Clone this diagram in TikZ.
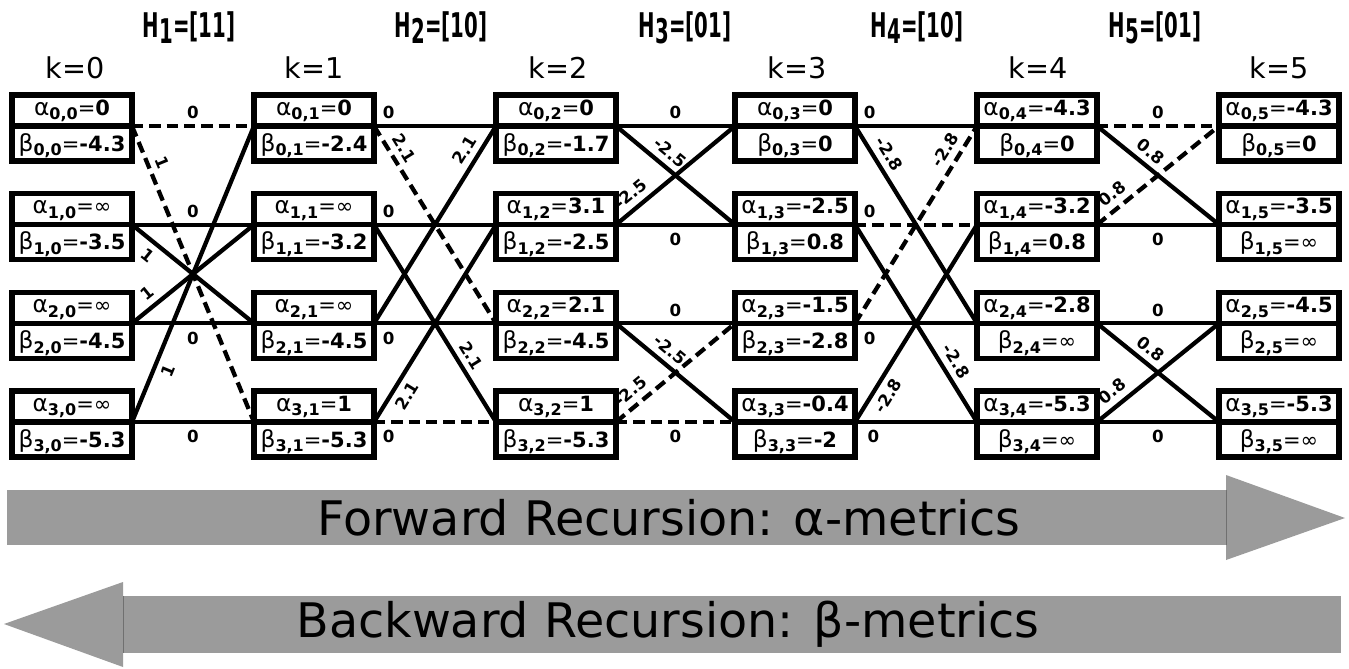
\documentclass[tikz,border=0pt]{standalone}
\usepackage{fontspec}
\setmainfont{DejaVu Sans}
\usepackage{graphicx}

\pgfdeclarelayer{links}
\pgfsetlayers{links,main}

\definecolor{bandgray}{HTML}{9B9B9B}
\definecolor{bandedge}{HTML}{707070}

% metric cell contents
\newcommand\Sb[2]{\raisebox{-3.4pt}{\fontsize{12}{12}\selectfont\bfseries #1,#2}}
\newcommand\Al[3]{{\fontsize{17.5}{18}\selectfont α}\Sb{#1}{#2}{\fontsize{15.75}{18}\selectfont=#3}}
\newcommand\Be[3]{{\fontsize{17.5}{18}\selectfont β}\Sb{#1}{#2}{\fontsize{15.75}{18}\selectfont=#3}}
\newcommand\B[1]{\textbf{#1}}
\newcommand\INF{∞}
\newcommand\Hlab[2]{\scalebox{0.58}[1]{\fontsize{25.5}{26}\selectfont\bfseries H\raisebox{-5pt}{#1}=[#2]}}

% one trellis state: alpha cell above, beta cell below the divider
% #1 k, #2 state, #3 x, #4 divider y, #5 alpha value, #6 beta value
\newcommand\tbox[6]{%
  \node[acell] (a#2#1) at (#3,#4-15.5) {\Al{#2}{#1}{#5}};
  \node[bcell] (b#2#1) at (#3,#4+17.5) {\Be{#2}{#1}{#6}};
}

\tikzset{
  cell/.style={draw, line width=3.9pt, fill=white, minimum width=90pt,
    inner sep=0pt, outer sep=0pt, anchor=center},
  acell/.style={cell, minimum height=23.25pt, text height=13.5pt, text depth=6.3pt},
  bcell/.style={cell, minimum height=26.25pt, text height=15pt, text depth=3.3pt},
  link/.style={line width=3.2pt},
  dlink/.style={link, dash pattern=on 8.5pt off 4.5pt},
  wlab/.style={font=\fontsize{12.5}{13}\selectfont\bfseries, inner sep=1pt},
  lup/.style={wlab, above=2.6pt},
  ldn/.style={wlab, below=3.8pt},
  sup/.style={wlab, sloped, above=3.4pt},
  sdn/.style={wlab, sloped, below=3.4pt},
  klab/.style={font=\fontsize{21.5}{22}\selectfont, anchor=base, inner sep=0pt},
  hlab/.style={anchor=base, inner sep=0pt},
  band/.style={font=\fontsize{35.7}{36}\selectfont, anchor=base, inner sep=0pt},
}

\begin{document}
\begin{tikzpicture}[x=0.75pt, y=-0.75pt]
\useasboundingbox (0,0) rectangle (1349,668);

% section headers
\node[hlab] (h1) at (189,37) {\Hlab{1}{11}};
\node[hlab] (h2) at (441,37) {\Hlab{2}{10}};
\node[hlab] (h3) at (685,37) {\Hlab{3}{01}};
\node[hlab] (h4) at (917,37) {\Hlab{4}{10}};
\node[hlab] (h5) at (1155,37) {\Hlab{5}{01}};

% time indices
\node[klab] (k0) at (75,78) {k=0};
\node[klab] (k1) at (314,78) {k=1};
\node[klab] (k2) at (558,78) {k=2};
\node[klab] (k3) at (797,78) {k=3};
\node[klab] (k4) at (1038,78) {k=4};
\node[klab] (k5) at (1279,78) {k=5};

% trellis states
\tbox{0}{0}{72}{126}{\B{0}}{\B{-4.3}}
\tbox{0}{1}{72}{224.67}{\INF}{\B{-3.5}}
\tbox{0}{2}{72}{323.33}{\INF}{\B{-4.5}}
\tbox{0}{3}{72}{422}{\INF}{\B{-5.3}}

\tbox{1}{0}{314}{126}{\B{0}}{\B{-2.4}}
\tbox{1}{1}{314}{224.67}{\INF}{\B{-3.2}}
\tbox{1}{2}{314}{323.33}{\INF}{\B{-4.5}}
\tbox{1}{3}{314}{422}{\B{1}}{\B{-5.3}}

\tbox{2}{0}{556}{126}{\B{0}}{\B{-1.7}}
\tbox{2}{1}{556}{224.67}{\B{3.1}}{\B{-2.5}}
\tbox{2}{2}{556}{323.33}{\B{2.1}}{\B{-4.5}}
\tbox{2}{3}{556}{422}{\B{1}}{\B{-5.3}}

\tbox{3}{0}{795}{126}{\B{0}}{\B{0}}
\tbox{3}{1}{795}{224.67}{\B{-2.5}}{\B{0.8}}
\tbox{3}{2}{795}{323.33}{\B{-1.5}}{\B{-2.8}}
\tbox{3}{3}{795}{422}{\B{-0.4}}{\B{-2}}

\tbox{4}{0}{1037}{126}{\B{-4.3}}{\B{0}}
\tbox{4}{1}{1037}{224.67}{\B{-3.2}}{\B{0.8}}
\tbox{4}{2}{1037}{323.33}{\B{-2.8}}{\INF}
\tbox{4}{3}{1037}{422}{\B{-5.3}}{\INF}

\tbox{5}{0}{1279}{126}{\B{-4.3}}{\B{0}}
\tbox{5}{1}{1279}{224.67}{\B{-3.5}}{\INF}
\tbox{5}{2}{1279}{323.33}{\B{-4.5}}{\INF}
\tbox{5}{3}{1279}{422}{\B{-5.3}}{\INF}

\begin{pgfonlayer}{links}
% k=0 -> k=1
\draw[dlink] (a00.south east) -- node[lup]{0} (a01.south west);
\draw[dlink] (a00.south east) -- node[pos=.14,sup]{1} (a31.south west);
\draw[link] (a10.south east) -- node[lup]{0} (a11.south west);
\draw[link] (a10.south east) -- node[pos=.2,sdn]{1} (a21.south west);
\draw[link] (a20.south east) -- node[pos=.2,sup]{1} (a11.south west);
\draw[link] (a20.south east) -- node[ldn]{0} (a21.south west);
\draw[link] (a30.south east) -- node[pos=.19,sdn]{1} (a01.south west);
\draw[link] (a30.south east) -- node[ldn]{0} (a31.south west);
% k=1 -> k=2
\draw[link] (a01.south east) -- node[pos=.12,lup]{0} (a02.south west);
\draw[dlink] (a01.south east) -- node[pos=.15,sup]{2.1} (a22.south west);
\draw[link] (a11.south east) -- node[pos=.12,lup]{0} (a12.south west);
\draw[link] (a11.south east) -- node[pos=.7,sup]{2.1} (a32.south west);
\draw[link] (a21.south east) -- node[pos=.84,sup]{2.1} (a02.south west);
\draw[link] (a21.south east) -- node[pos=.12,ldn]{0} (a22.south west);
\draw[link] (a31.south east) -- node[pos=.17,sdn]{2.1} (a12.south west);
\draw[dlink] (a31.south east) -- node[pos=.12,ldn]{0} (a32.south west);
% k=2 -> k=3
\draw[link] (a02.south east) -- node[lup]{0} (a03.south west);
\draw[link] (a02.south east) -- node[pos=.38,sup]{-2.5} (a13.south west);
\draw[link] (a12.south east) -- node[pos=.2,sup]{-2.5} (a03.south west);
\draw[link] (a12.south east) -- node[ldn]{0} (a13.south west);
\draw[link] (a22.south east) -- node[lup]{0} (a23.south west);
\draw[link] (a22.south east) -- node[pos=.38,sup]{-2.5} (a33.south west);
\draw[dlink] (a32.south east) -- node[pos=.2,sup]{-2.5} (a23.south west);
\draw[dlink] (a32.south east) -- node[ldn]{0} (a33.south west);
% k=3 -> k=4
\draw[link] (a03.south east) -- node[pos=.12,lup]{0} (a04.south west);
\draw[link] (a03.south east) -- node[pos=.18,sup]{-2.8} (a24.south west);
\draw[dlink] (a13.south east) -- node[pos=.12,lup]{0} (a14.south west);
\draw[link] (a13.south east) -- node[pos=.73,sup]{-2.8} (a34.south west);
\draw[dlink] (a23.south east) -- node[pos=.84,sup]{-2.8} (a04.south west);
\draw[link] (a23.south east) -- node[pos=.12,ldn]{0} (a24.south west);
\draw[link] (a33.south east) -- node[pos=.17,sdn]{-2.8} (a14.south west);
\draw[link] (a33.south east) -- node[pos=.15,ldn]{0} (a34.south west);
% k=4 -> k=5
\draw[dlink] (a04.south east) -- node[lup]{0} (a05.south west);
\draw[link] (a04.south east) -- node[pos=.37,sup]{0.8} (a15.south west);
\draw[dlink] (a14.south east) -- node[pos=.2,sup]{0.8} (a05.south west);
\draw[link] (a14.south east) -- node[ldn]{0} (a15.south west);
\draw[link] (a24.south east) -- node[lup]{0} (a25.south west);
\draw[link] (a24.south east) -- node[pos=.37,sup]{0.8} (a35.south west);
\draw[link] (a34.south east) -- node[pos=.2,sup]{0.8} (a25.south west);
\draw[link] (a34.south east) -- node[ldn]{0} (a35.south west);
\end{pgfonlayer}

% recursion direction bands
\fill[bandgray] (7,490) rectangle (1226,545);
\fill[bandgray] (1226,475) -- (1345,518) -- (1226,560) -- cycle;
\draw[bandedge, line width=0.75pt] (1226,490) -- (1226,545);
\node[band] (fwd) at (669,535) {Forward Recursion: α-metrics};

\fill[bandgray] (123,596) rectangle (1341,653);
\fill[bandgray] (123,582) -- (4,624) -- (123,667) -- cycle;
\draw[bandedge, line width=0.75pt] (123,596) -- (123,653);
\node[band] (bwd) at (668,637) {Backward Recursion: β-metrics};
\end{tikzpicture}
\end{document}
